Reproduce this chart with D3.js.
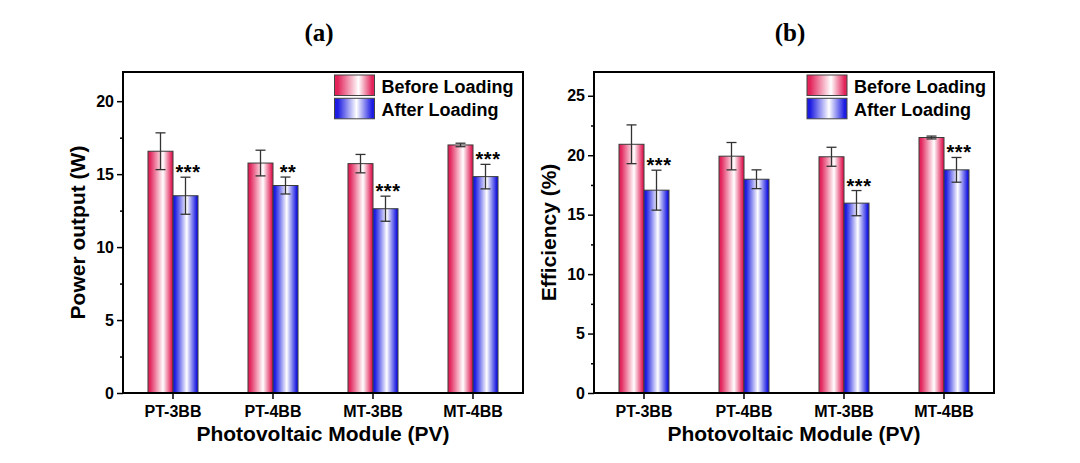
<!DOCTYPE html>
<html>
<head>
<meta charset="utf-8">
<script src="https://cdn.jsdelivr.net/npm/d3@7"></script>
<style>
html,body{margin:0;padding:0;background:#fff;}
svg{display:block;}
text{font-family:"Liberation Sans",Arial,sans-serif;font-weight:bold;fill:#000;}
</style>
</head>
<body>
<svg id="chart" width="1080" height="463"></svg>
<script>
// ---- data ----
const categories = ["PT-3BB", "PT-4BB", "MT-3BB", "MT-4BB"];
const seriesNames = ["Before Loading", "After Loading"];

const powerBefore    = [16.57, 15.76, 15.72, 17.00];
const powerBeforeErr = [1.26, 0.88, 0.63, 0.12];
const powerAfter     = [13.52, 14.22, 12.63, 14.83];
const powerAfterErr  = [1.27, 0.58, 0.86, 0.84];
const powerSig       = ["***", "**", "***", "***"];
const powerTicks     = [0, 5, 10, 15, 20];
const powerMinor     = [2.5, 7.5, 12.5, 17.5];

const effBefore    = [20.92, 19.92, 19.87, 21.49];
const effBeforeErr = [1.63, 1.15, 0.80, 0.12];
const effAfter     = [17.06, 17.98, 15.97, 18.77];
const effAfterErr  = [1.68, 0.79, 1.06, 1.04];
const effSig       = ["***", "", "***", "***"];
const effTicks     = [0, 5, 10, 15, 20, 25];
const effMinor     = [2.5, 7.5, 12.5, 17.5, 22.5];

// ---- drawing ----
const svg = d3.select("#chart");
const defs = svg.append("defs");

function grad(id, col, mid) {
  const g = defs.append("linearGradient").attr("id", id)
    .attr("x1", "0%").attr("x2", "100%").attr("y1", "0%").attr("y2", "0%");
  g.append("stop").attr("offset", "0%").attr("stop-color", col);
  g.append("stop").attr("offset", "8%").attr("stop-color", col);
  g.append("stop").attr("offset", (mid * 100) + "%").attr("stop-color", "#ffffff");
  g.append("stop").attr("offset", "94%").attr("stop-color", col);
  g.append("stop").attr("offset", "100%").attr("stop-color", col);
}
grad("gRed", "#e2245b", 0.6);
grad("gBlue", "#1c1ce2", 0.55);
const fills = ["url(#gRed)", "url(#gBlue)"];

function panel(opt) {
  const L = opt.left, R = opt.left + 400, T = 72, B = 393;
  const g = svg.append("g");

  const x0 = d3.scaleBand().domain(categories).range([L, R])
    .paddingInner(0.5).paddingOuter(0.25);
  const x1 = d3.scaleBand().domain(seriesNames).range([0, x0.bandwidth()]);
  const y = d3.scaleLinear().domain([0, opt.ymax]).range([B, T]);

  const rows = categories.map((c, i) => ({
    cat: c,
    vals: [
      { s: seriesNames[0], v: opt.before[i], e: opt.beforeErr[i], k: 0 },
      { s: seriesNames[1], v: opt.after[i], e: opt.afterErr[i], k: 1 }
    ],
    sig: opt.sig[i]
  }));

  const grp = g.selectAll("g.cat").data(rows).join("g")
    .attr("transform", d => `translate(${x0(d.cat)},0)`);

  grp.selectAll("rect").data(d => d.vals).join("rect")
    .attr("x", d => x1(d.s)).attr("width", x1.bandwidth())
    .attr("y", d => y(d.v)).attr("height", d => B - y(d.v))
    .attr("fill", d => fills[d.k]).attr("stroke", "#3a3a3a").attr("stroke-width", 1);

  const eb = grp.selectAll("g.err").data(d => d.vals).join("g")
    .attr("stroke", "#333").attr("stroke-width", 1.3).attr("fill", "none");
  eb.append("line")
    .attr("x1", d => x1(d.s) + x1.bandwidth() / 2).attr("x2", d => x1(d.s) + x1.bandwidth() / 2)
    .attr("y1", d => y(d.v + d.e)).attr("y2", d => y(d.v - d.e));
  eb.append("line")
    .attr("x1", d => x1(d.s) + x1.bandwidth() / 2 - 5).attr("x2", d => x1(d.s) + x1.bandwidth() / 2 + 5)
    .attr("y1", d => y(d.v + d.e)).attr("y2", d => y(d.v + d.e));
  eb.append("line")
    .attr("x1", d => x1(d.s) + x1.bandwidth() / 2 - 5).attr("x2", d => x1(d.s) + x1.bandwidth() / 2 + 5)
    .attr("y1", d => y(d.v - d.e)).attr("y2", d => y(d.v - d.e));

  grp.append("text")
    .attr("x", x1(seriesNames[1]) + x1.bandwidth() / 2 + 2.5)
    .attr("y", d => y(d.vals[1].v + d.vals[1].e) + 2)
    .attr("text-anchor", "middle")
    .style("font-size", "20px").style("letter-spacing", "0.5px")
    .text(d => d.sig);

  // axes
  const ax = g.append("g").attr("transform", `translate(0,${B})`)
    .call(d3.axisBottom(x0).tickSize(6).tickPadding(7));
  ax.select(".domain").remove();
  ax.selectAll("line").attr("stroke", "#000").attr("stroke-width", 1.5);
  ax.selectAll("text").style("font-size", "16px").style("font-family", "'Liberation Sans',Arial,sans-serif").style("font-weight", "bold");

  const ay = g.append("g").attr("transform", `translate(${L},0)`)
    .call(d3.axisLeft(y).tickValues(opt.ticks).tickSize(6).tickPadding(3).tickFormat(d3.format("d")));
  ay.select(".domain").remove();
  ay.selectAll("line").attr("stroke", "#000").attr("stroke-width", 1.5);
  ay.selectAll("text").style("font-size", "16px").style("font-family", "'Liberation Sans',Arial,sans-serif").style("font-weight", "bold");

  const am = g.append("g").attr("transform", `translate(${L},0)`)
    .call(d3.axisLeft(y).tickValues(opt.minor).tickSize(3).tickFormat(""));
  am.select(".domain").remove();
  am.selectAll("line").attr("stroke", "#000").attr("stroke-width", 1.5);

  // frame
  g.append("rect").attr("x", L).attr("y", T).attr("width", R - L).attr("height", B - T)
    .attr("fill", "none").attr("stroke", "#000").attr("stroke-width", 2);

  // axis titles
  g.append("text").attr("x", (L + R) / 2 - 0).attr("y", 441).attr("text-anchor", "middle")
    .style("font-size", "21px").text("Photovoltaic Module (PV)");
  g.append("text").attr("transform", `translate(${L - 38},${(T + B) / 2}) rotate(-90)`)
    .attr("text-anchor", "middle").style("font-size", "21px").text(opt.ytitle);

  // panel title
  g.append("text").attr("x", opt.titleX).attr("y", 41).attr("text-anchor", "middle")
    .style("font-family", "'Liberation Serif','Times New Roman',serif").style("font-size", "25px")
    .text(opt.title);

  // legend
  const lx = opt.left + opt.legendOffset;
  const leg = g.selectAll("g.leg").data(seriesNames).join("g")
    .attr("transform", (d, i) => `translate(${lx},${75 + i * 23.3})`);
  leg.append("rect").attr("width", 40).attr("height", 20.5)
    .attr("fill", (d, i) => fills[i]).attr("stroke", "#444").attr("stroke-width", 1);
  leg.append("text").attr("x", 47).attr("y", 18).style("font-size", "18px").text(d => d);
}

panel({
  left: 123, ymax: 22, before: powerBefore, beforeErr: powerBeforeErr,
  after: powerAfter, afterErr: powerAfterErr, sig: powerSig,
  ticks: powerTicks, minor: powerMinor, ytitle: "Power output (W)",
  title: "(a)", titleX: 319, legendOffset: 211.5
});
panel({
  left: 594, ymax: 27, before: effBefore, beforeErr: effBeforeErr,
  after: effAfter, afterErr: effAfterErr, sig: effSig,
  ticks: effTicks, minor: effMinor, ytitle: "Efficiency (%)",
  title: "(b)", titleX: 790, legendOffset: 213
});
</script>
</body>
</html>
